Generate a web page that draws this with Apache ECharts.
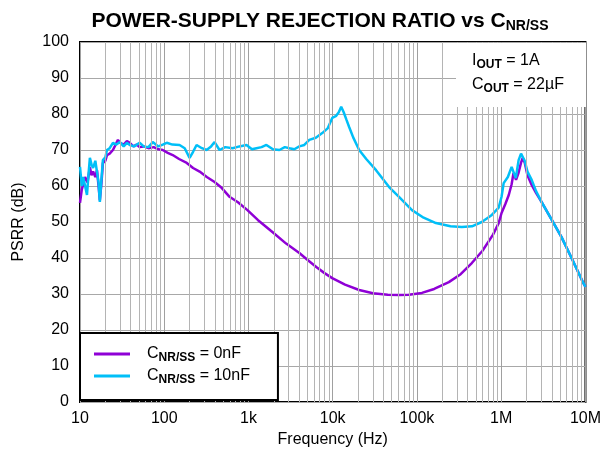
<!DOCTYPE html>
<html><head><meta charset="utf-8">
<script src="https://cdn.jsdelivr.net/npm/echarts@6/dist/echarts.min.js"></script>
<style>html,body{margin:0;padding:0;background:#fff}#c{width:604px;height:458px}</style>
</head><body><div id="c"></div>
<script>
const xTickLabels = {10:'10',100:'100',1000:'1k',10000:'10k',100000:'100k',1000000:'1M',10000000:'10M'};
const yTicks = [0,10,20,30,40,50,60,70,80,90,100];
const seriesNames = ['0nF','10nF'];
const psrr0nF = [[10,55.3],[10.5,59],[11.5,62.5],[12.3,61],[13.1,65.3],[13.7,63],[14.3,64],[15.2,62.5],[15.9,64.4],[16.6,60],[17.2,56],[18,61],[18.7,66.4],[20,67],[20.9,68.6],[22.5,69],[24.6,70],[26.5,71.5],[28.2,72.8],[30,72],[33,71.5],[36,72.5],[39,72],[43,71],[47,71.5],[51,70.8],[57,71],[65,70.5],[75,70.8],[85,70.2],[96,70],[110,69.2],[126,68.6],[150,67.5],[185,66.4],[220,65],[263,64],[320,62.5],[396,61.1],[480,59.5],[596,57],[750,55.5],[972,53.3],[1300,50.5],[1923,47.2],[2800,44],[4015,41.4],[5000,39.5],[6380,37.5],[8000,35.8],[9870,34.4],[14000,32.6],[20600,31.1],[30000,30.2],[45000,29.8],[61200,29.7],[80000,29.8],[114500,30.3],[160000,31.4],[239000,33.3],[330000,35.5],[448000,38.6],[600000,42],[800000,46.5],[933000,49.7],[1010000,52.5],[1120000,55],[1230000,57.5],[1330000,60.5],[1400000,63.6],[1500000,61.7],[1600000,63.5],[1720000,66.5],[1800000,67.8],[1900000,66.5],[2050000,63],[2300000,60.3],[2600000,58],[3010000,55.6],[4000000,50.5],[5200000,45.8],[7000000,39.5],[9460000,33],[10000000,32]];
const psrr10nF = [[10,65.3],[10.5,60],[10.9,62.5],[11.5,60],[12.1,57.5],[12.6,63],[13.1,67.8],[13.7,66],[14.3,65],[15.2,67],[15.9,66.5],[16.6,61],[17.2,55.6],[18,62],[18.7,67.2],[20,68],[20.9,70],[22.5,70.5],[24.6,72],[27,71.5],[29.8,72.2],[33,71],[36,72],[39,71.4],[44,71],[51,72],[57,71],[65,70.8],[73,72.2],[85,71],[96,71.5],[107,72],[125,71.5],[152,71.4],[175,70.5],[200,67.8],[220,69.5],[242,71.4],[280,70.5],[318,70],[360,71],[396,72.2],[453,70],[530,70.8],[648,70.5],[780,71],[947,71.4],[1100,70.2],[1244,70.5],[1430,70.8],[1633,71.4],[1950,70.2],[2328,70],[2700,70.8],[3056,70.5],[3500,70.2],[4015,71],[4600,71.4],[5272,72.8],[6300,73.4],[7508,74.7],[8700,76],[9866,78.9],[11000,79.5],[11800,80.5],[12610,82],[13500,80.5],[14500,78.5],[15670,76.4],[17500,73.5],[20600,70],[25000,67.5],[32700,64.4],[46700,59.7],[61200,57],[87300,53.3],[120000,51.2],[168000,49.7],[250000,48.8],[341000,48.6],[450000,48.8],[588000,50],[760000,51.8],[933000,54],[1010000,57],[1070000,60.8],[1200000,62.5],[1330000,65.3],[1420000,63.5],[1490000,62.2],[1610000,67.2],[1720000,69],[1800000,69.4],[1900000,67],[2050000,64],[2300000,61.7],[2600000,58.5],[3010000,55.6],[4000000,50.5],[5200000,45.8],[7000000,39.5],[9460000,33],[10000000,32]];

const minorX = [];
for (let d = 10; d < 1e7; d *= 10) for (let m = 2; m <= 9; m++) minorX.push({xAxis: d * m});

const chart = echarts.init(document.getElementById('c'), null, {renderer: 'canvas'});
const F = 'Liberation Sans, Arial, sans-serif';
const legRich = {a: {fontSize: 16, fontFamily: F, color: '#000', padding: [0,0,0,12]}, b: {fontSize: 12, fontWeight: 'bold', fontFamily: F, color: '#000', padding: [7,0,0,0]}, c: {fontSize: 16, fontFamily: F, color: '#000'}};
chart.setOption({
  animation: false,
  backgroundColor: '#fff',
  title: {
    text: '{a|POWER-SUPPLY REJECTION RATIO vs C}{b|NR/SS}',
    left: 315, top: 5, textAlign: 'center',
    textStyle: {rich: {a: {fontSize: 21, fontWeight: 'bold', fontFamily: F, color: '#000'}, b: {fontSize: 14, fontWeight: 'bold', fontFamily: F, color: '#000', padding: [9,0,0,0]}}}
  },
  grid: {left: 80, right: 17, top: 42, bottom: 56, show: true, borderColor: '#000', borderWidth: 2, backgroundColor: 'transparent'},
  legend: {
    orient: 'vertical', left: 80, top: 333, z: 20, zlevel: 1,
    data: seriesNames,
    icon: 'rect', itemWidth: 36, itemHeight: 3, itemGap: 2,
    backgroundColor: '#fff', borderColor: '#000', borderWidth: 2, borderRadius: 0,
    padding: [11, 28, 14, 14],
    formatter: n => '{a|C}{b|NR/SS}{c| = ' + n + '}',
    textStyle: {lineHeight: 20, rich: legRich}
  },
  xAxis: {
    type: 'log', logBase: 10, min: 10, max: 1e7,
    name: 'Frequency (Hz)', nameLocation: 'middle', nameGap: 30,
    nameTextStyle: {fontSize: 16, fontFamily: F, color: '#000'},
    axisLine: {show: false}, axisTick: {show: false},
    axisLabel: {fontSize: 16, fontFamily: F, color: '#000', margin: 9, formatter: v => xTickLabels[Math.round(v)] || ''},
    splitLine: {show: true, lineStyle: {color: '#a0a0a0', width: 1}}
  },
  yAxis: {
    type: 'value', min: 0, max: 100, interval: 10,
    name: 'PSRR (dB)', nameLocation: 'middle', nameGap: 53,
    nameTextStyle: {fontSize: 16, fontFamily: F, color: '#000'},
    axisLine: {show: false}, axisTick: {show: false},
    axisLabel: {fontSize: 16, fontFamily: F, color: '#000', margin: 11, formatter: v => yTicks.includes(v) ? String(v) : ''},
    splitLine: {show: true, lineStyle: {color: '#a8a8a8', width: 1}}
  },
  graphic: [
    {type: 'rect', z: 10, zlevel: 1, shape: {x: 456, y: 43, width: 130, height: 64}, style: {fill: '#fff'}},
    {type: 'text', z: 11, zlevel: 1, left: 472, top: 51, style: {text: '{a|I}{b|OUT}{a| = 1A}\n{a|C}{b|OUT}{a| = 22µF}', rich: {a: {fontSize: 16, fontFamily: F, fill: '#000', lineHeight: 24}, b: {fontSize: 12, fontWeight: 'bold', fontFamily: F, fill: '#000', padding: [8,0,0,0], lineHeight: 24}}}}
  ],
  series: [
    {type: 'line', name: 'gridminor', data: [], z: 1, silent: true,
     markLine: {silent: true, symbol: ['none','none'], label: {show: false}, animation: false,
       lineStyle: {color: '#b4b4b4', width: 1, type: 'solid'}, data: minorX}},
    {type: 'line', name: '0nF', data: psrr0nF, showSymbol: false, symbol: 'none', z: 3,
     lineStyle: {color: '#8f00d6', width: 2.5}, itemStyle: {color: '#8f00d6'}},
    {type: 'line', name: '10nF', data: psrr10nF, showSymbol: false, symbol: 'none', z: 4,
     lineStyle: {color: '#00bff8', width: 2.5}, itemStyle: {color: '#00bff8'}}
  ]
});
</script>
</body></html>
